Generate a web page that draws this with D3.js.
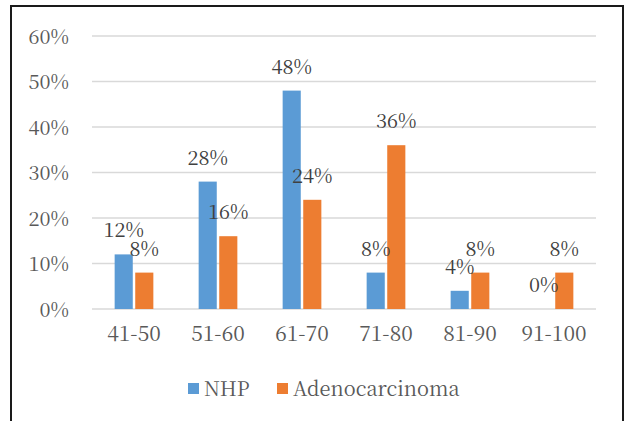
<!DOCTYPE html>
<html>
<head>
<meta charset="utf-8">
<script src="https://cdn.jsdelivr.net/npm/d3@7"></script>
<style>
html,body{margin:0;padding:0;background:#fff;}
svg{display:block;}
</style>
</head>
<body>
<svg id="chart" width="625" height="421"></svg>
<script>
const categories = ["41-50","51-60","61-70","71-80","81-90","91-100"];
const seriesNames = ["NHP","Adenocarcinoma"];
const nhp = [12,28,48,8,4,0];
const adeno = [8,16,24,36,8,8];
const yTicks = [0,10,20,30,40,50,60];
const colors = ["#5b9bd5","#ed7d31"];

const FONT = "Noto Serif CJK SC";
const svg = d3.select("#chart");
const W = 625, H = 421;
const plot = {left:92, right:596, top:36, bottom:309};

// frame
svg.append("path")
  .attr("d", `M11,${H+5} L11,6 L623,6 L623,${H+5}`)
  .attr("fill","none").attr("stroke","#1a1a1a").attr("stroke-width",2);

const x0 = d3.scaleBand().domain(categories).range([plot.left, plot.right]).paddingInner(0).paddingOuter(0);
const x1 = d3.scaleBand().domain(seriesNames).range([0, x0.bandwidth()]).paddingInner(0.12).paddingOuter(1.1);
const y = d3.scaleLinear().domain([0,60]).range([plot.bottom, plot.top]);

// gridlines
svg.append("g").selectAll("line").data(yTicks).join("line")
  .attr("x1", plot.left).attr("x2", plot.right)
  .attr("y1", d=>y(d)).attr("y2", d=>y(d))
  .attr("stroke","#d9d9d9").attr("stroke-width",1.5);

// y axis labels
const yAxis = d3.axisLeft(y).tickValues(yTicks).tickFormat(d=>d+"%").tickSize(0).tickPadding(23);
const ga = svg.append("g").attr("transform",`translate(${plot.left},0)`).call(yAxis);
ga.attr("font-family", FONT).attr("font-size", 20);
ga.select(".domain").remove();
ga.selectAll("text").attr("font-family",FONT).attr("font-size",20).attr("fill","#595959").attr("dy","0.35em");

// x axis labels
const xAxis = d3.axisBottom(x0).tickSize(0).tickPadding(19);
const gx = svg.append("g").attr("transform",`translate(0,${plot.bottom})`).call(xAxis);
gx.attr("font-family", FONT).attr("font-size", 21);
gx.select(".domain").remove();
gx.selectAll("text").attr("font-family",FONT).attr("font-size",21).attr("fill","#595959").attr("dy","0.6em");

const data = categories.map((c,i)=>({cat:c, vals:[{s:seriesNames[0],v:nhp[i]},{s:seriesNames[1],v:adeno[i]}]}));

const groups = svg.append("g").selectAll("g").data(data).join("g")
  .attr("transform", d=>`translate(${x0(d.cat)},0)`);

groups.selectAll("rect").data(d=>d.vals).join("rect")
  .attr("x", d=>x1(d.s)).attr("width", x1.bandwidth())
  .attr("y", d=>y(d.v)).attr("height", d=>y(0)-y(d.v))
  .attr("fill", (d,i)=>colors[i]);

groups.selectAll("text.lbl").data(d=>d.vals).join("text").attr("class","lbl")
  .attr("x", d=>x1(d.s)+x1.bandwidth()/2)
  .attr("y", d=>y(d.v)-17)
  .attr("text-anchor","middle")
  .attr("font-family",FONT).attr("font-size",20)
  .attr("fill","#404040")
  .text(d=>d.v+"%");

// legend
const leg = svg.append("g");
const legItems = [{n:seriesNames[0],x:188},{n:seriesNames[1],x:277}];
legItems.forEach((it,i)=>{
  leg.append("rect").attr("x",it.x).attr("y",383).attr("width",11).attr("height",11).attr("fill",colors[i]);
  leg.append("text").attr("x",it.x+16).attr("y",396)
    .attr("font-family",FONT).attr("font-size",20).attr("fill","#595959").text(it.n);
});
</script>
</body>
</html>
